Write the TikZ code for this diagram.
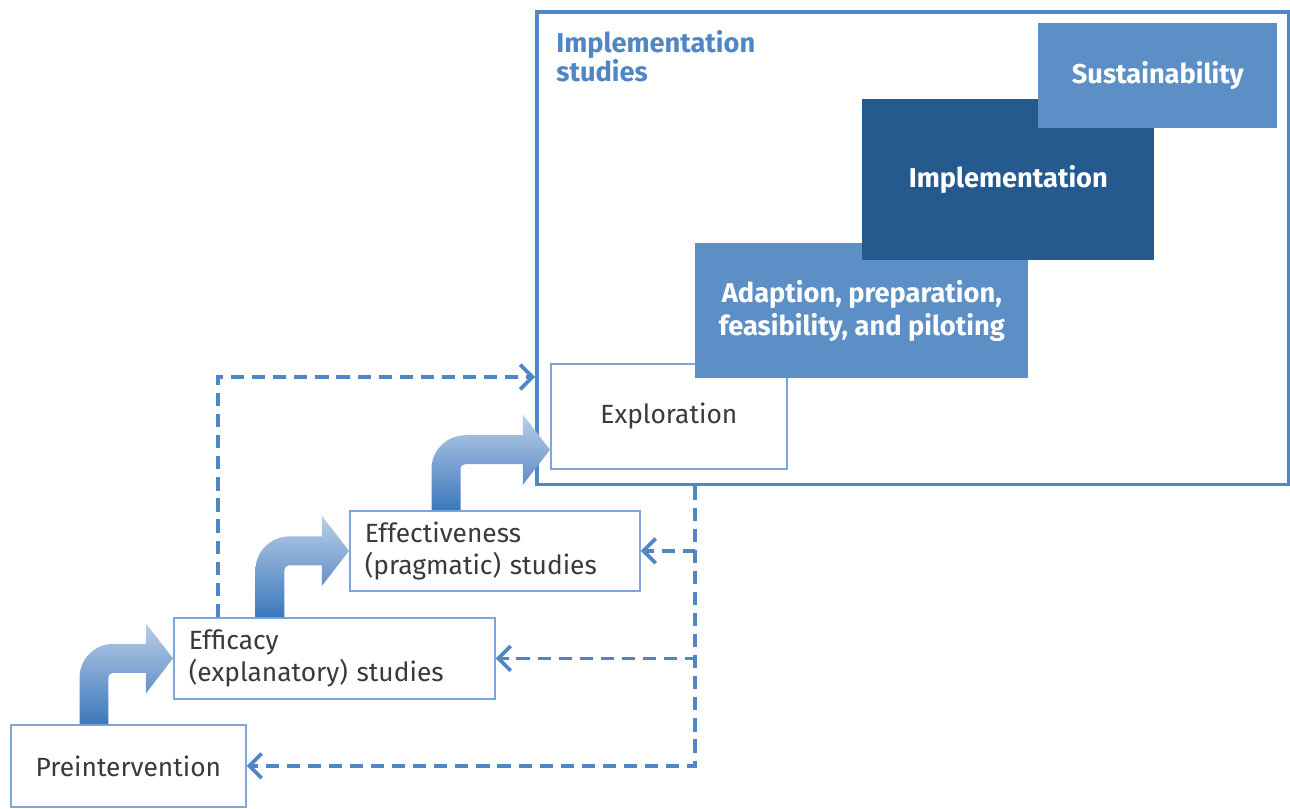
\documentclass[tikz,border=0pt]{standalone}
\usepackage{fontspec}
\setmainfont{Fira Sans}
\usetikzlibrary{arrows.meta,calc,positioning}
\definecolor{lightblue}{HTML}{5B8FC6}
\definecolor{darkblue}{HTML}{255A8F}
\definecolor{lineblue}{HTML}{4F87C5}
\definecolor{boxline}{HTML}{7FA6D6}
\definecolor{textgray}{HTML}{3A3A3A}
\definecolor{arrowtop}{HTML}{BACEE8}
\definecolor{arrowbottom}{HTML}{3C78BC}
\tikzset{
  stage/.style={draw=boxline, line width=1pt, fill=white, text=textgray,
    inner sep=0pt, anchor=north west, font=\fontsize{15}{18}\selectfont},
  phase/.style={fill=#1, text=white, inner sep=0pt, anchor=north west,
    align=center, font=\fontsize{15.5}{18.5}\selectfont\bfseries},
  feedback/.style={draw=lineblue, line width=2.1pt, dash pattern=on 7.5pt off 4.5pt,
    -{Straight Barb[length=7pt,width=14pt]}},
}
% thick bent arrow: #1 foot of the shaft, #2 tip
\newcommand\bentarrow[2]{%
  \shade [top color=arrowtop, bottom color=arrowbottom]
    let \p1=(#1), \p2=(#2) in
    (\x1-8.25pt,\y1) -- (\x1-8.25pt,\y2-11pt)
    arc [start angle=180, end angle=90, radius=19.25pt]
    -- (\x2-15.4pt,\y2+8.25pt) -- (\x2-15.4pt,\y2+19.9pt) -- (\x2,\y2)
    -- (\x2-15.4pt,\y2-19.9pt) -- (\x2-15.4pt,\y2-8.25pt)
    -- (\x1+10.75pt,\y2-8.25pt)
    arc [start angle=90, end angle=180, radius=2.5pt]
    -- (\x1+8.25pt,\y1) -- cycle;}
\begin{document}
\begin{tikzpicture}[x=0.02cm,y=-0.02cm]
  \useasboundingbox (0,0) rectangle (1290,808);
  % implementation studies frame
  \node [draw=lineblue, line width=2pt, minimum width=15.04cm, minimum height=9.46cm,
    inner sep=0pt, anchor=north west] (imp) at (535,10) {};
  \node [anchor=north west, align=left, inner sep=0pt, text=lineblue,
    font=\fontsize{15.5}{16.5}\selectfont\bfseries] (imptitle) at (556,30) {Implementation\\studies};
  % stages inside the frame
  \node [stage, minimum width=4.72cm, minimum height=2.1cm] (expl) at (550,363) {Exploration};
  \node [phase=lightblue, minimum width=6.66cm, minimum height=2.7cm] (adapt) at (695,243)
    {Adaption, preparation,\\feasibility, and piloting};
  \node [phase=darkblue, minimum width=5.84cm, minimum height=3.22cm] (impl) at (862,99) {Implementation};
  \node [phase=lightblue, minimum width=4.78cm, minimum height=2.1cm] (sust) at (1038,23) {Sustainability};
  % stages before
  \node [stage, minimum width=4.7cm, minimum height=1.64cm] (pre) at (10,724) {Preintervention};
  \node [stage, align=left, text width=5.82cm, inner xsep=0.3cm, minimum height=1.62cm] (effc)
    at (173,617) {Efficacy\\(explanatory) studies};
  \node [stage, align=left, text width=5.2cm, inner xsep=0.3cm, minimum height=1.6cm] (effv)
    at (349,510) {Effectiveness\\(pragmatic) studies};
  % steps up
  \bentarrow{$(pre.north west)+(84,0)$}{effc.west}
  \bentarrow{$(effc.north west)+(97,0)$}{effv.west}
  \bentarrow{$(effv.north west)+(97,0)$}{$(expl.south west)+(0,-20)$}
  % feedback
  \draw [feedback] ($(effc.north west)+(45,0)$) |- ($(imp.west |- expl.north)+(0,14)$);
  \coordinate (split) at (imp.south -| adapt.west);
  \draw [feedback] (split) |- (effv.east);
  \draw [feedback] (split) |- (effc.east);
  \draw [feedback] (split) |- (pre.east);
\end{tikzpicture}
\end{document}
